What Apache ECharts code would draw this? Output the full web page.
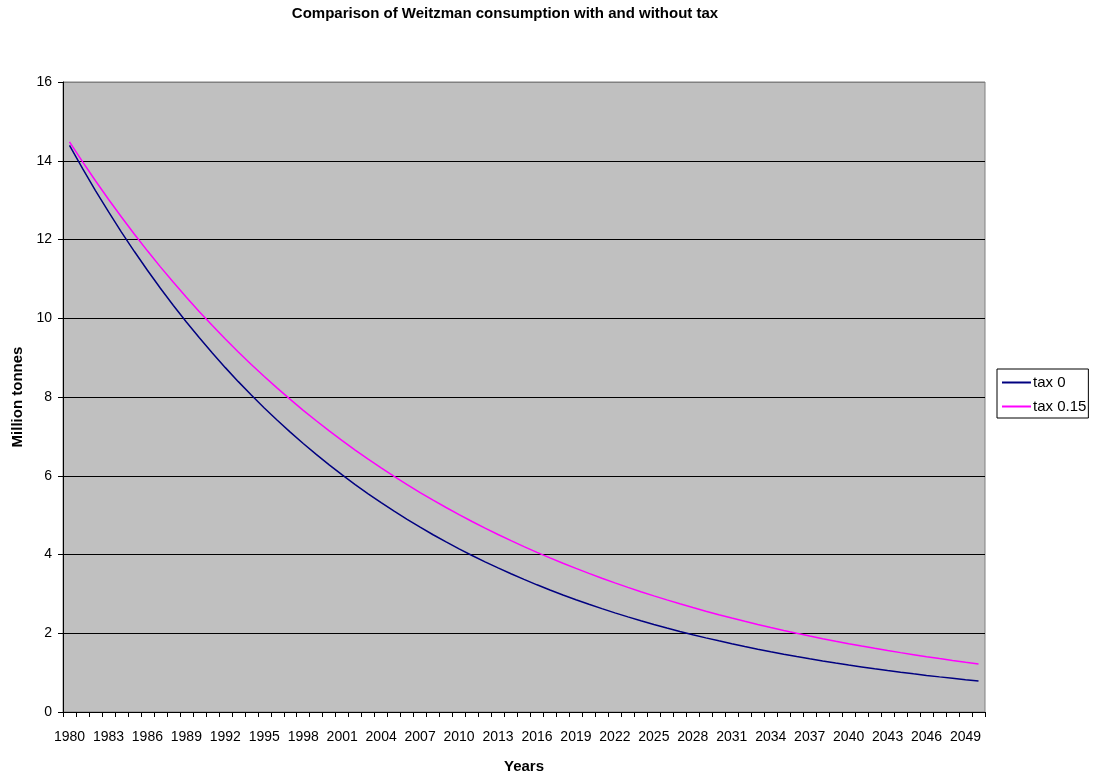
<!DOCTYPE html>
<html>
<head>
<meta charset="utf-8">
<title>Comparison of Weitzman consumption with and without tax</title>
<script src="https://cdn.jsdelivr.net/npm/echarts@6/dist/echarts.min.js"></script>
<style>
  html, body { margin: 0; padding: 0; background: #ffffff; }
  #chart { width: 1098px; height: 776px; }
</style>
</head>
<body>
<div id="chart"></div>
<script>
// Years 1980 to 2050
const years = [];
for (let y = 1980; y <= 2050; y++) years.push(String(y));

// Consumption, million tonnes, without tax
const tax0 = [
  14.39, 13.805, 13.244, 12.706, 12.189, 11.694, 11.218, 10.762, 10.325, 9.905,
  9.503, 9.116, 8.746, 8.390, 8.049, 7.722, 7.408, 7.107, 6.818, 6.541,
  6.275, 6.020, 5.775, 5.541, 5.315, 5.099, 4.892, 4.693, 4.502, 4.319,
  4.144, 3.975, 3.814, 3.659, 3.510, 3.367, 3.230, 3.099, 2.973, 2.852,
  2.736, 2.625, 2.518, 2.416, 2.318, 2.223, 2.133, 2.046, 1.963, 1.883,
  1.807, 1.733, 1.663, 1.595, 1.530, 1.468, 1.408, 1.351, 1.296, 1.244,
  1.193, 1.145, 1.098, 1.054, 1.011, 0.970, 0.930, 0.892, 0.856, 0.821,
  0.788
];

// Consumption, million tonnes, with a tax of 0.15
const tax015 = [
  14.48, 13.977, 13.491, 13.022, 12.570, 12.133, 11.712, 11.305, 10.912, 10.533,
  10.167, 9.814, 9.473, 9.144, 8.826, 8.520, 8.224, 7.938, 7.662, 7.396,
  7.139, 6.891, 6.652, 6.421, 6.198, 5.983, 5.775, 5.574, 5.380, 5.193,
  5.013, 4.839, 4.671, 4.509, 4.352, 4.201, 4.055, 3.914, 3.778, 3.647,
  3.520, 3.398, 3.280, 3.166, 3.056, 2.950, 2.847, 2.748, 2.653, 2.561,
  2.472, 2.386, 2.303, 2.223, 2.146, 2.071, 1.999, 1.930, 1.863, 1.798,
  1.736, 1.676, 1.618, 1.562, 1.508, 1.456, 1.405, 1.356, 1.309, 1.264,
  1.220
];

const seriesNames = ['tax 0', 'tax 0.15'];
const titleText = 'Comparison of Weitzman consumption with and without tax';
const xAxisName = 'Years';
const yAxisName = 'Million tonnes';

const FONT = '"Liberation Sans", Arial, sans-serif';

const chart = echarts.init(document.getElementById('chart'), null, { renderer: 'canvas' });

chart.setOption({
  animation: false,
  backgroundColor: '#ffffff',
  textStyle: { fontFamily: FONT },
  title: {
    text: titleText,
    left: 500,
    textAlign: 'center',
    top: 0,
    padding: [6, 5],
    textStyle: { fontFamily: FONT, fontSize: 15, fontWeight: 'bold', color: '#000' }
  },
  legend: {
    orient: 'vertical',
    left: 997,
    top: 369,
    padding: [6, 2, 4, 5],
    itemGap: 9,
    itemWidth: 29,
    itemHeight: 2,
    icon: 'rect',
    borderColor: '#000',
    borderWidth: 1,
    backgroundColor: '#ffffff',
    textStyle: { fontFamily: FONT, fontSize: 15, color: '#000', padding: [0, 0, 0, -3] },
    data: seriesNames
  },
  grid: {
    left: 63,
    right: 113,
    top: 82,
    bottom: 64,
    show: true,
    backgroundColor: '#c0c0c0',
    borderColor: '#808080',
    borderWidth: 1,
    containLabel: false,
    outerBoundsMode: 'none'
  },
  xAxis: {
    type: 'category',
    data: years,
    boundaryGap: true,
    name: xAxisName,
    nameLocation: 'middle',
    nameGap: 47,
    nameTextStyle: { fontFamily: FONT, fontSize: 15, fontWeight: 'bold', color: '#000' },
    axisLine: { show: true, lineStyle: { color: '#000', width: 1 } },
    axisTick: { show: true, interval: 0, length: 5, lineStyle: { color: '#000' } },
    axisLabel: { interval: 2, margin: 18, fontFamily: FONT, fontSize: 14, color: '#000' },
    splitLine: { show: false }
  },
  yAxis: {
    type: 'value',
    min: 0,
    max: 16,
    interval: 2,
    name: yAxisName,
    nameLocation: 'middle',
    nameGap: 36,
    nameRotate: 90,
    nameTextStyle: { fontFamily: FONT, fontSize: 15, fontWeight: 'bold', color: '#000' },
    axisLine: { show: true, lineStyle: { color: '#000', width: 1 } },
    axisTick: { show: true, length: 5, lineStyle: { color: '#000' } },
    axisLabel: { margin: 11, fontFamily: FONT, fontSize: 14, color: '#000' },
    splitLine: {
      show: true,
      lineStyle: {
        color: ['#000', '#000', '#000', '#000', '#000', '#000', '#000', '#000', '#808080'],
        width: 1
      }
    }
  },
  series: [
    {
      name: seriesNames[0],
      type: 'line',
      data: tax0,
      symbol: 'none',
      smooth: false,
      lineStyle: { color: '#000080', width: 1.5 },
      itemStyle: { color: '#000080' }
    },
    {
      name: seriesNames[1],
      type: 'line',
      data: tax015,
      symbol: 'none',
      smooth: false,
      lineStyle: { color: '#ff00ff', width: 1.5 },
      itemStyle: { color: '#ff00ff' }
    }
  ]
});
</script>
</body>
</html>
